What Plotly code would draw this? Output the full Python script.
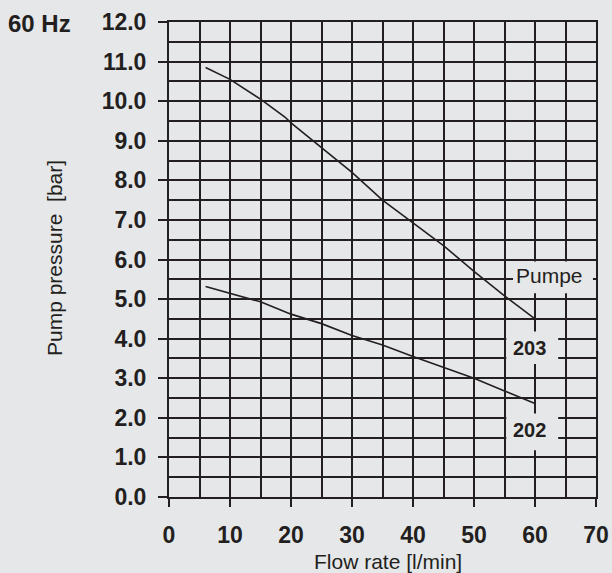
import plotly.graph_objects as go

# Data
flow_203 = [6, 10, 15, 19, 20, 25, 30, 35, 40, 45, 50, 55, 60]
pressure_203 = [10.85, 10.55, 10.05, 9.6, 9.45, 8.82, 8.2, 7.5, 6.93, 6.35, 5.7, 5.08, 4.5]

flow_202 = [6, 10, 15, 20, 25, 30, 35, 40, 45, 50, 55, 60]
pressure_202 = [5.32, 5.15, 4.93, 4.62, 4.38, 4.08, 3.84, 3.55, 3.27, 3.0, 2.68, 2.36]

x_ticks = [0, 10, 20, 30, 40, 50, 60, 70]
y_ticks = [0, 1, 2, 3, 4, 5, 6, 7, 8, 9, 10, 11, 12]
y_tick_labels = [f"{v:.1f}" for v in y_ticks]

BG = "#e6e7e9"
INK = "#231f20"
FONT = "Liberation Sans, Arial, Helvetica, sans-serif"

W, H = 612, 573
ML, MR, MT, MB = 169, 16, 22, 76
PW, PH = W - ML - MR, H - MT - MB


def px(xpage):
    return (xpage - ML) / PW


def py(ypage):
    return (MT + PH - ypage) / PH


fig = go.Figure()
fig.add_trace(go.Scatter(x=flow_203, y=pressure_203, mode="lines",
                         line=dict(color=INK, width=1.6), showlegend=False,
                         hoverinfo="skip"))
fig.add_trace(go.Scatter(x=flow_202, y=pressure_202, mode="lines",
                         line=dict(color=INK, width=1.6), showlegend=False,
                         hoverinfo="skip"))

# Label boxes that mask the grid
boxes = [
    (56.4, 69.5, 5.15, 5.95),
    (55.3, 63.8, 3.36, 4.18),
    (55.3, 63.8, 1.18, 2.11),
]
for x0, x1, y0, y1 in boxes:
    fig.add_shape(type="rect", x0=x0, x1=x1, y0=y0, y1=y1, xref="x", yref="y",
                  fillcolor=BG, line=dict(width=0), layer="above")

fig.add_annotation(x=62.3, y=5.59, text="Pumpe", showarrow=False,
                   font=dict(family=FONT, size=21, color=INK))
fig.add_annotation(x=59.07, y=3.76, text="<b>203</b>", showarrow=False,
                   font=dict(family=FONT, size=20, color=INK))
fig.add_annotation(x=59.07, y=1.69, text="<b>202</b>", showarrow=False,
                   font=dict(family=FONT, size=20, color=INK))

fig.add_annotation(xref="paper", yref="paper", x=px(6), y=py(24),
                   text="<b>60 Hz</b>", showarrow=False,
                   xanchor="left", yanchor="middle",
                   font=dict(family=FONT, size=24, color=INK))

fig.add_annotation(xref="paper", yref="paper", x=px(388), y=py(561),
                   text="Flow rate [l/min]", showarrow=False,
                   xanchor="center", yanchor="middle",
                   font=dict(family=FONT, size=21, color=INK))
fig.add_annotation(xref="paper", yref="paper", x=px(54), y=py(258),
                   text="Pump pressure  [bar]", showarrow=False, textangle=-90,
                   xanchor="center", yanchor="middle",
                   font=dict(family=FONT, size=21, color=INK))

fig.update_layout(
    width=W, height=H,
    paper_bgcolor=BG, plot_bgcolor=BG,
    margin=dict(l=ML, r=MR, t=MT, b=MB, autoexpand=False),
    font=dict(family=FONT, color=INK),
)

fig.update_xaxes(range=[0, 70], tickvals=x_ticks, ticktext=[str(v) for v in x_ticks],
                 automargin=False,
                 ticks="outside", ticklen=8, tickwidth=2, tickcolor=INK,
                 ticklabelstandoff=8,
                 tickfont=dict(family=FONT, size=23, color=INK, weight="bold"),
                 showgrid=True, gridcolor=INK, gridwidth=2,
                 minor=dict(dtick=5, tick0=0, showgrid=True, gridcolor=INK, gridwidth=2, ticks=""),
                 showline=True, mirror=True, linecolor=INK, linewidth=2,
                 zeroline=False, fixedrange=True)
fig.update_yaxes(range=[0, 12], tickvals=y_ticks, ticktext=y_tick_labels,
                 automargin=False,
                 ticks="outside", ticklen=9, tickwidth=2, tickcolor=INK,
                 ticklabelstandoff=7,
                 tickfont=dict(family=FONT, size=23, color=INK, weight="bold"),
                 showgrid=True, gridcolor=INK, gridwidth=2,
                 minor=dict(dtick=0.5, tick0=0, showgrid=True, gridcolor=INK, gridwidth=2, ticks=""),
                 showline=True, mirror=True, linecolor=INK, linewidth=2,
                 zeroline=False, fixedrange=True)

fig.write_html(
    "out.html",
    config={"displayModeBar": False},
    post_script="document.body.style.margin='0';document.body.style.overflow='hidden';"
                "document.body.style.background='" + BG + "';",
)
